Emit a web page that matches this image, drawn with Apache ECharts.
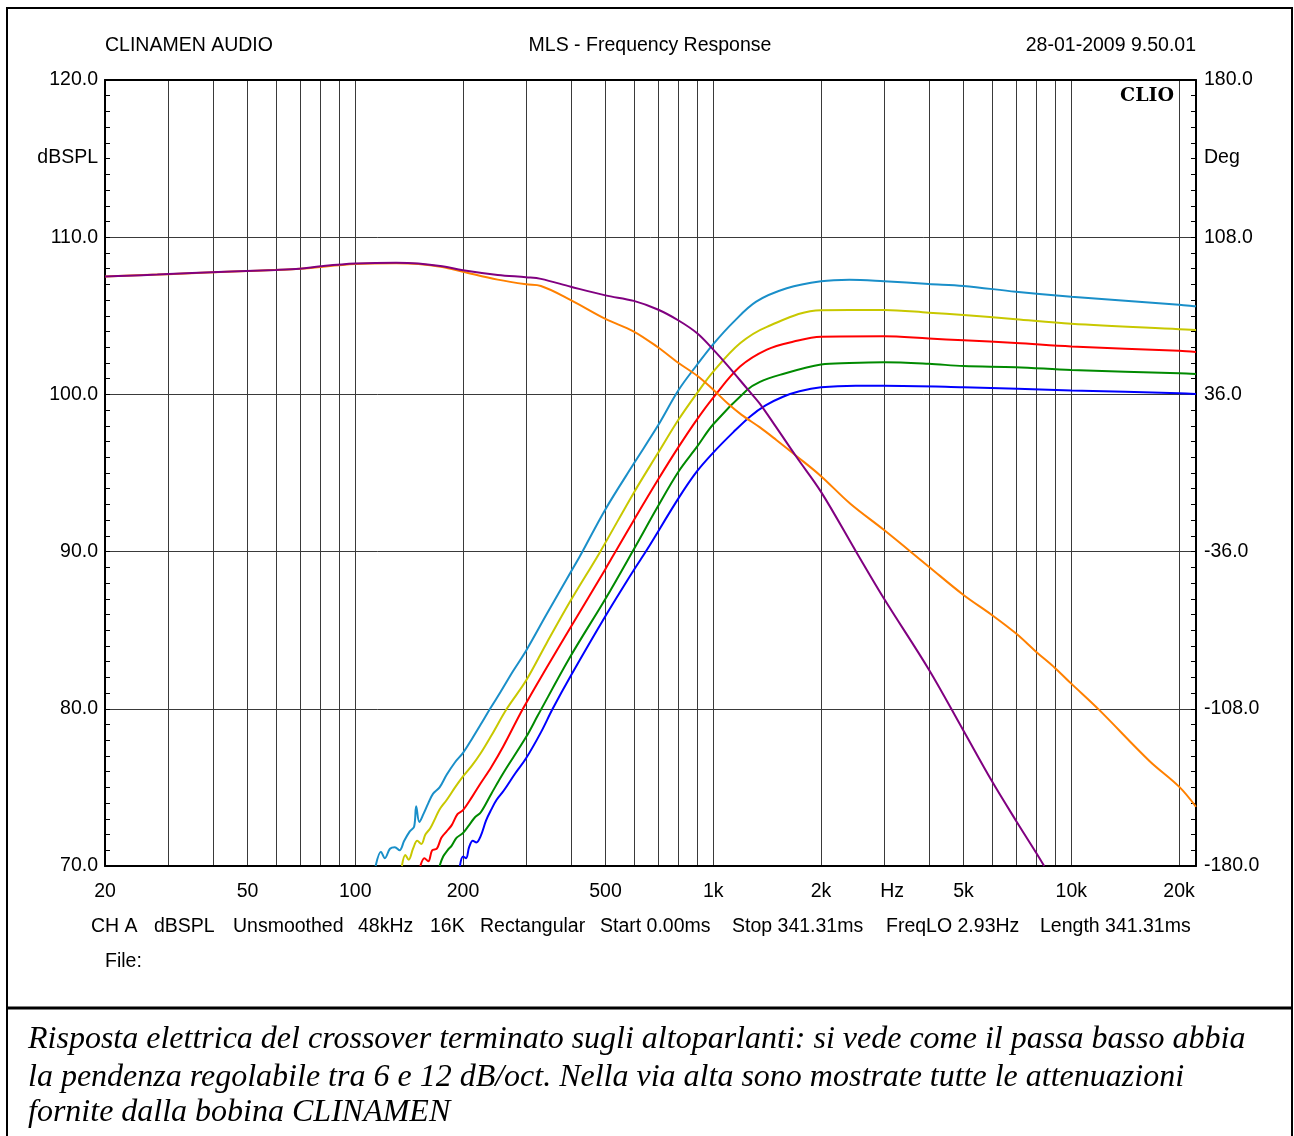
<!DOCTYPE html>
<html><head><meta charset="utf-8">
<script src="https://cdn.jsdelivr.net/npm/echarts@6/dist/echarts.min.js"></script>
<style>html,body{margin:0;padding:0;background:#fff}#c{width:1294px;height:1136px}</style>
</head><body><div id="c"></div>
<script>
// ---------- axis ticks ----------
const FREQ_GRID = [20,30,40,50,60,70,80,90,100,200,300,400,500,600,700,800,900,1000,2000,3000,4000,5000,6000,7000,8000,9000,10000,20000];
const FREQ_LABEL_VALUES = [20,50,100,200,500,1000,2000,3000,5000,10000,20000];
const FREQ_LABEL_TEXT = ['20','50','100','200','500','1k','2k','Hz','5k','10k','20k'];
const SPL_MIN = 70, SPL_MAX = 120, SPL_STEP = 10;
const DEG_MIN = -180, DEG_MAX = 180, DEG_STEP = 72;

// ---------- series values (Hz, dBSPL) ----------
const purpleHz = [20,23,28,35,45,60,70,80,100,130,150,175,200,250,300,330,400,500,600,700,800,900,1000,1100,1250,1350,1500,1710,2000,2520,3000,4000,5000,6000,7000,8000,8400];
const purpleDb = [107.5,107.55,107.62,107.72,107.82,107.92,108.0,108.15,108.32,108.38,108.33,108.15,107.9,107.6,107.45,107.35,106.85,106.3,105.95,105.4,104.7,103.9,102.85,101.8,100.3,99.4,97.9,96.0,93.8,89.9,87.0,82.5,78.6,75.4,72.9,70.8,70.0];

const orangeHz = [20,30,50,70,100,130,150,175,200,250,300,330,400,500,600,700,800,900,1000,1100,1200,1350,1500,1710,2000,2410,3000,4000,5000,6000,7000,8000,9000,10000,12000,16500,20000,22300];
const orangeDb = [107.5,107.65,107.85,108.0,108.3,108.35,108.3,108.1,107.8,107.3,107.0,106.9,106.0,104.8,104.0,103.0,102.0,101.2,100.3,99.4,98.7,97.9,97.1,96.07,94.8,93.06,91.37,89.04,87.24,85.97,84.8,83.6,82.6,81.6,79.9,76.7,75.05,73.77];

const lightBlueHz = [114,118,121,125,129,133,137,142,146,148,151,155,160,165,172,180,190,200,212,224,238,255,276,300,342,400,424,500,600,700,800,900,1000,1138,1318,1604,2000,2400,3000,4000,5000,7000,10000,20000,22300];
const lightBlueDb = [70.0,70.9,70.5,71.1,71.2,71.0,71.6,72.2,72.5,73.8,72.8,73.3,74.0,74.6,75.0,75.8,76.6,77.2,78.1,79.0,80.0,81.1,82.4,83.7,86.0,88.7,89.7,92.7,95.6,98.0,100.28,101.87,103.2,104.6,105.9,106.75,107.2,107.3,107.2,107.02,106.9,106.53,106.21,105.7,105.6];

const yellowHz = [135,138,141,145,149,153,157,162,167,172,180,190,200,212,224,240,265,300,342,400,482,600,700,800,900,1000,1188,1412,2000,3000,4000,5000,7000,10000,20000,22300];
const yellowDb = [70.0,70.7,70.4,71.1,71.6,71.4,72.0,72.4,73.0,73.6,74.2,75.0,75.7,76.4,77.17,78.3,80.0,81.8,84.16,86.9,89.95,93.75,96.25,98.4,100.07,101.45,103.25,104.3,105.36,105.37,105.2,105.05,104.78,104.5,104.15,104.1];

const redHz = [152,156,160,164,169,174,180,186,193,200,212,224,240,259,294,342,400,500,538,600,700,800,900,1000,1188,1412,1678,2000,3000,4000,5000,7000,10000,20000,22300];
const redDb = [70.0,70.5,70.3,71.0,71.1,71.8,72.2,72.6,73.3,73.56,74.4,75.26,76.3,77.6,80.0,82.6,85.2,88.9,90.15,92.0,94.55,96.66,98.4,99.8,101.77,102.85,103.36,103.67,103.7,103.55,103.44,103.27,103.05,102.77,102.7];

const greenHz = [172,176,181,186,192,200,208,216,224,240,259,300,324,400,500,600,700,800,900,1000,1242,1350,1534,2000,2400,3000,4000,5000,7000,10000,20000,22300];
const greenDb = [70.0,70.6,71.0,71.3,71.8,72.1,72.6,73.1,73.4,74.6,75.9,78.2,79.6,83.37,87.0,90.15,92.87,95.1,96.66,98.1,100.28,100.8,101.24,101.9,102.0,102.05,101.95,101.8,101.73,101.55,101.35,101.3];

const blueHz = [196,200,204,208,213,218,224,232,240,248,260,280,300,330,356,400,500,600,652,800,900,1000,1138,1268,1400,1566,1741,2000,2500,3000,5000,10000,20000,22300];
const blueDb = [70.0,70.6,70.5,71.2,71.6,71.5,71.9,72.9,73.6,74.2,74.8,75.9,76.85,78.5,80.0,82.1,85.9,88.83,90.1,93.4,95.1,96.3,97.6,98.6,99.3,99.85,100.2,100.45,100.55,100.55,100.45,100.25,100.08,100.02];

// ---------- texts ----------
const HEADER_LEFT = 'CLINAMEN AUDIO';
const HEADER_MID = 'MLS - Frequency Response';
const HEADER_RIGHT = '28-01-2009 9.50.01';
const FOOTER_ITEMS = ['CH A','dBSPL','Unsmoothed','48kHz','16K','Rectangular','Start 0.00ms','Stop 341.31ms','FreqLO 2.93Hz','Length 341.31ms'];
const FOOTER_X = [91,154,233,358,430,480,600,732,886,1040];
const CAPTION = [
  'Risposta elettrica del crossover terminato sugli altoparlanti: si vede come il passa basso abbia',
  'la pendenza regolabile tra 6 e 12 dB/oct. Nella via alta sono mostrate tutte le attenuazioni',
  'fornite dalla bobina CLINAMEN'
];

const SANS = '"Liberation Sans", Arial, sans-serif';
const FS = 19.5;

function zip(a, b) { return a.map((v, i) => [v, b[i]]); }
function mk(name, hz, db, color) {
  return {
    name, type: 'line', xAxisIndex: 0, yAxisIndex: 0,
    data: zip(hz, db), showSymbol: false, symbol: 'none',
    smooth: 0.35,
    lineStyle: { color, width: 2 }, itemStyle: { color },
    clip: true, silent: true
  };
}

const chart = echarts.init(document.getElementById('c'), null, { renderer: 'canvas' });

const graphics = [
  { type: 'rect', shape: { x: 7, y: 8, width: 1285, height: 1140 }, style: { fill: 'none', stroke: '#000', lineWidth: 2 } },
  { type: 'line', shape: { x1: 7, y1: 1008, x2: 1292, y2: 1008 }, style: { stroke: '#000', lineWidth: 3 } },
  { type: 'text', x: 105, y: 46, style: { text: HEADER_LEFT, font: FS + 'px ' + SANS, fill: '#000', textVerticalAlign: 'middle' } },
  { type: 'text', x: 650, y: 46, style: { text: HEADER_MID, font: FS + 'px ' + SANS, fill: '#000', textAlign: 'center', textVerticalAlign: 'middle' } },
  { type: 'text', x: 1196, y: 46, style: { text: HEADER_RIGHT, font: FS + 'px ' + SANS, fill: '#000', textAlign: 'right', textVerticalAlign: 'middle' } },
  { type: 'text', x: 98, y: 158, style: { text: 'dBSPL', font: FS + 'px ' + SANS, fill: '#000', textAlign: 'right', textVerticalAlign: 'middle' } },
  { type: 'text', x: 1204, y: 158, style: { text: 'Deg', font: FS + 'px ' + SANS, fill: '#000', textAlign: 'left', textVerticalAlign: 'middle' } },
  { type: 'text', x: 1174, y: 96, z: 10, style: { text: 'CLIO', font: 'bold 19px "DejaVu Serif", serif', fill: '#000', textAlign: 'right', textVerticalAlign: 'middle' } },
  { type: 'text', x: 105, y: 962, style: { text: 'File:', font: FS + 'px ' + SANS, fill: '#000', textVerticalAlign: 'middle' } }
];
FOOTER_ITEMS.forEach((t, i) => graphics.push({ type: 'text', x: FOOTER_X[i], y: 927, style: { text: t, font: FS + 'px ' + SANS, fill: '#000', textVerticalAlign: 'middle' } }));
const CAP_Y = [1040, 1078, 1113];
CAPTION.forEach((t, i) => graphics.push({ type: 'text', x: 28, y: CAP_Y[i], style: { text: t, font: 'italic 32px "Liberation Serif", "Times New Roman", serif', fill: '#000', textVerticalAlign: 'middle' } }));

const labelMap = {};
FREQ_LABEL_VALUES.forEach((v, i) => labelMap[v] = FREQ_LABEL_TEXT[i]);

const option = {
  animation: false,
  backgroundColor: '#fff',
  grid: { left: 105, top: 80, width: 1091, height: 786, containLabel: false },
  xAxis: [
    {
      type: 'log', logBase: 10, min: 20, max: 22300, position: 'bottom',
      axisLine: { show: true, onZero: false, lineStyle: { color: '#000', width: 2 } },
      axisTick: { show: false, customValues: FREQ_GRID },
      minorTick: { show: false }, minorSplitLine: { show: false },
      splitLine: { show: true, lineStyle: { color: '#3a3a3a', width: 1 } },
      axisLabel: {
        customValues: FREQ_LABEL_VALUES, color: '#000', fontFamily: SANS, fontSize: FS, margin: 16,
        formatter: v => {
          const k = Math.round(v);
          const t = labelMap[k] || '';
          return t === 'Hz' ? '{hz|Hz}' : t;
        },
        rich: { hz: { fontFamily: SANS, fontSize: FS, color: '#000', padding: [0, 0, 0, 16] } }
      }
    },
    {
      type: 'log', logBase: 10, min: 20, max: 22300, position: 'top',
      axisLine: { show: true, onZero: false, lineStyle: { color: '#000', width: 2 } },
      axisTick: { show: false }, axisLabel: { show: false }, splitLine: { show: false },
      minorTick: { show: false }
    }
  ],
  yAxis: [
    {
      type: 'value', position: 'left', min: SPL_MIN, max: SPL_MAX, interval: SPL_STEP,
      axisLine: { show: true, onZero: false, lineStyle: { color: '#000', width: 2 } },
      axisTick: { show: true, inside: true, length: 5, lineStyle: { color: '#000' } },
      minorTick: { show: true, splitNumber: 10, length: 5, lineStyle: { color: '#000', width: 1 } },
      splitLine: { show: true, lineStyle: { color: '#3a3a3a', width: 1 } },
      axisLabel: { formatter: v => v.toFixed(1), color: '#000', fontFamily: SANS, fontSize: FS, margin: 7 }
    },
    {
      type: 'value', position: 'right', min: DEG_MIN, max: DEG_MAX, interval: DEG_STEP,
      axisLine: { show: true, onZero: false, lineStyle: { color: '#000', width: 2 } },
      axisTick: { show: true, inside: true, length: 5, lineStyle: { color: '#000' } },
      minorTick: { show: true, splitNumber: 10, length: 5, lineStyle: { color: '#000', width: 1 } },
      splitLine: { show: false },
      axisLabel: { formatter: v => v.toFixed(1), color: '#000', fontFamily: SANS, fontSize: FS, margin: 8 }
    }
  ],
  series: [
    mk('blue', blueHz, blueDb, '#0000ff'),
    mk('green', greenHz, greenDb, '#008a00'),
    mk('red', redHz, redDb, '#ff0000'),
    mk('yellow', yellowHz, yellowDb, '#c8c800'),
    mk('lightblue', lightBlueHz, lightBlueDb, '#1a8fc9'),
    mk('orange', orangeHz, orangeDb, '#ff8000'),
    mk('purple', purpleHz, purpleDb, '#800080')
  ],
  graphic: graphics
};
chart.setOption(option);
</script></body></html>
